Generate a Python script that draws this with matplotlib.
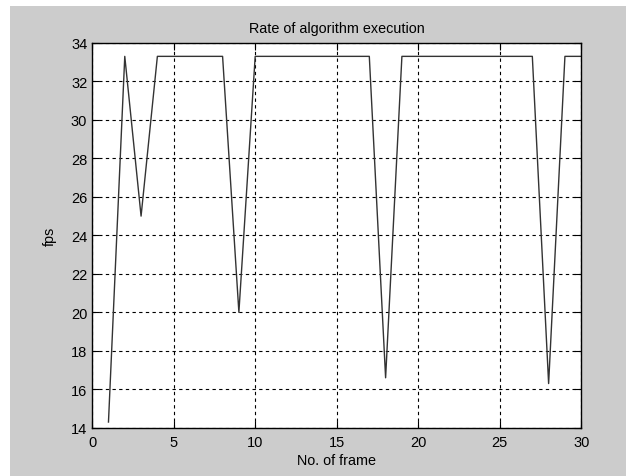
import matplotlib
matplotlib.use("Agg")
import matplotlib.pyplot as plt
from matplotlib.patches import Rectangle

frames = list(range(1, 31))
fps = [14.3, 33.3, 25.0, 33.3, 33.3, 33.3, 33.3, 33.3, 20.0, 33.3,
       33.3, 33.3, 33.3, 33.3, 33.3, 33.3, 33.3, 16.6, 33.3, 33.3,
       33.3, 33.3, 33.3, 33.3, 33.3, 33.3, 33.3, 16.3, 33.3, 33.3]
xticks = [0, 5, 10, 15, 20, 25, 30]
yticks = list(range(14, 35, 2))

plt.rcParams['font.family'] = ['Liberation Sans', 'DejaVu Sans']

fig = plt.figure(figsize=(6.27, 4.77), dpi=100, facecolor='white')
fig.patches.append(Rectangle((10 / 627, 0), 616 / 627, 470 / 477,
                             transform=fig.transFigure, facecolor='#cccccc',
                             edgecolor='none', zorder=-10))
ax = fig.add_axes([0.147, 0.101, 0.780, 0.807])
ax.set_facecolor('white')
ax.plot(frames, fps, color='#333333', linewidth=1.0)
ax.set_xlim(0, 30)
ax.set_ylim(14, 34)
ax.set_xticks(xticks)
ax.set_yticks(yticks)
ax.grid(True, color='black', linestyle=(0, (3, 3)), linewidth=0.8)
ax.tick_params(direction='in', top=True, right=True, length=5, labelsize=10.5,
               width=0.8, color='black')
ax.tick_params(axis='x', pad=5)
for s in ax.spines.values():
    s.set_linewidth(1.0)
    s.set_color('black')
ax.set_title('Rate of algorithm execution', fontsize=10.4, pad=8)
ax.set_xlabel('No. of frame', fontsize=10.4, labelpad=3)
ax.set_ylabel('fps', fontsize=10.4, labelpad=10)
fig.savefig('out.png', dpi=100, facecolor=fig.get_facecolor())
